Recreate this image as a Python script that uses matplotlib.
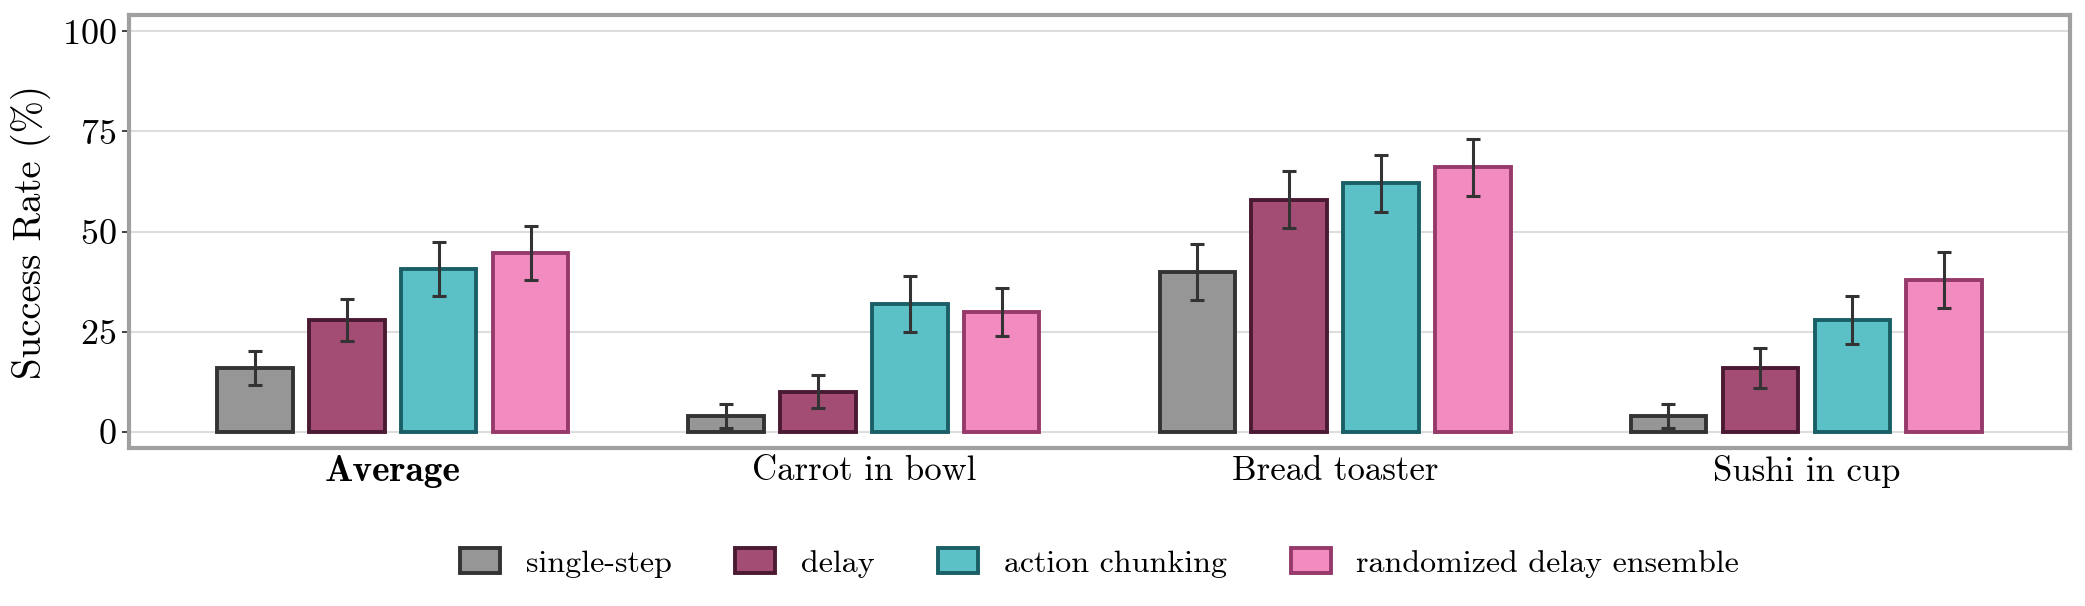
import numpy as np
import matplotlib
matplotlib.use("Agg")
import matplotlib.pyplot as plt

# --- Data ---
tasks = ["Average", "Carrot in bowl", "Bread toaster", "Sushi in cup"]
methods = ["single-step", "delay", "action chunking", "randomized delay ensemble"]

single_step = [16, 4, 40, 4]
delay = [28, 10, 58, 16]
action_chunking = [40.7, 32, 62, 28]
randomized_delay = [44.6, 30, 66, 38]

single_step_err = [4.2, 2.9, 7.0, 2.9]
delay_err = [5.3, 4.1, 7.0, 5.0]
action_chunking_err = [6.7, 7.0, 7.0, 6.0]
randomized_delay_err = [6.7, 6.0, 7.0, 7.0]

fill_colors = ["#969696", "#a34d75", "#5cc0c7", "#f28bbf"]
edge_colors = ["#333333", "#4a1a33", "#1a5f66", "#963a6b"]

# --- Style ---
plt.rcParams["font.family"] = "serif"
plt.rcParams["font.serif"] = ["cmr10"]
plt.rcParams["mathtext.fontset"] = "cm"
plt.rcParams["axes.formatter.use_mathtext"] = True

fig = plt.figure(figsize=(20.85, 6.06), dpi=100)
ax = fig.add_axes([0.0619, 0.2607, 0.9309, 0.7143])

values = [single_step, delay, action_chunking, randomized_delay]
errors = [single_step_err, delay_err, action_chunking_err, randomized_delay_err]

x = np.arange(len(tasks))
pitch = 0.195
width = 0.16
for i, (vals, errs) in enumerate(zip(values, errors)):
    offset = (i - 1.5) * pitch
    ax.bar(x + offset, vals, width, color=fill_colors[i], edgecolor=edge_colors[i],
           linewidth=2.8, label=methods[i], zorder=3)
    ax.errorbar(x + offset, vals, yerr=errs, fmt="none", ecolor="#333333",
                elinewidth=2.2, capsize=5, capthick=2.2, zorder=4)

ax.set_ylim(-4, 104)
ax.set_yticks([0, 25, 50, 75, 100])
ax.set_ylabel("Success Rate (%)", fontsize=28, labelpad=8)
ax.set_xticks(x)
ax.set_xticklabels(tasks, fontsize=25)
avg_label = ax.get_xticklabels()[0]
avg_label.set_fontfamily("cmb10")
avg_label.set_fontsize(27)
ax.tick_params(axis="x", length=0, pad=5)
ax.tick_params(axis="y", labelsize=26, length=5, width=1.3, color="#333333", pad=4)

ax.grid(axis="y", color="#dddddd", linewidth=1.5, zorder=0)
ax.set_axisbelow(True)
for spine in ax.spines.values():
    spine.set_color("#a0a0a0")
    spine.set_linewidth(3)

ax.legend(loc="center", bbox_to_anchor=(0.5, -0.265), ncol=4, frameon=False,
          fontsize=23, handlelength=1.25, handleheight=0.85, handletextpad=0.8,
          columnspacing=2.0)

fig.savefig("out.png", dpi=100)
